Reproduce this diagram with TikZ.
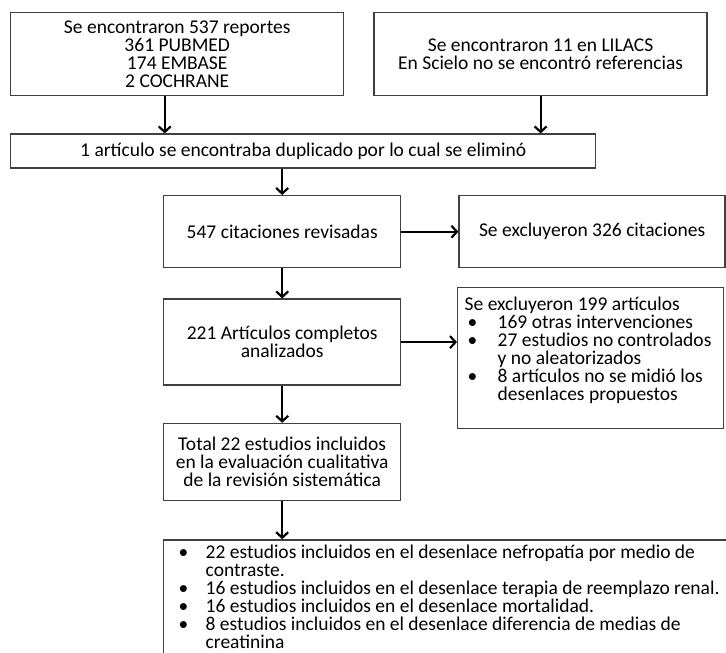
\documentclass[tikz,border=0pt]{standalone}
\usepackage{fontspec}
\setmainfont{Carlito}
\usetikzlibrary{arrows.meta,positioning}

% bullet with left indent and fixed gap
\newcommand{\blt}[2]{\hspace*{#1}\makebox[#2][l]{\textbullet}}

\begin{document}
\begin{tikzpicture}[x=1pt, y=-1pt,
  every node/.style={font=\fontsize{19.5}{18}\selectfont},
  box/.style={draw=black!75, line width=1.4pt, align=center, inner sep=5pt},
  arr/.style={-{Straight Barb[length=5.5pt,width=12pt]}, line width=2.2pt},
  node distance=29pt
]
\useasboundingbox (0,0) rectangle (726,653);
\clip (0,0) rectangle (726,653);

\node[box, minimum width=333pt, minimum height=83pt, anchor=north west] (enc) at (10,12)
  {Se encontraron 537 reportes\\361 PUBMED\\174 EMBASE\\2 COCHRANE};
\node[box, minimum width=333pt, minimum height=83pt, right=29pt of enc] (lil)
  {Se encontraron 11 en LILACS\\En Scielo no se encontró referencias};

\node[box, minimum width=585pt, minimum height=34pt,
      below=37pt of enc.south west, anchor=north west] (dup)
  {1 artículo se encontraba duplicado por lo cual se eliminó};

\node[box, minimum width=237pt, minimum height=72pt, anchor=north west] (cit) at (163,195)
  {547 citaciones revisadas};
\node[box, minimum width=266pt, minimum height=72pt, right=57pt of cit] (excl)
  {Se excluyeron 326 citaciones};

\node[box, minimum width=237pt, minimum height=86pt, below=30pt of cit] (art)
  {221 Artículos completos\\analizados};
\node[box, align=flush left, text width=252pt, inner xsep=7pt, inner ysep=9pt,
      anchor=north west] (exc2) at (457,287)
  {Se excluyeron 199 artículos\\
   \blt{3pt}{30pt}169 otras intervenciones\\
   \blt{3pt}{30pt}27 estudios no controlados\\
   \hspace*{33pt}y no aleatorizados\\
   \blt{3pt}{30pt}8 artículos no se midió los\\
   \hspace*{33pt}desenlaces propuestos\rule[-19pt]{0pt}{19pt}};

\node[box, minimum width=237pt, minimum height=77pt, below=37pt of art] (tot)
  {Total 22 estudios incluidos\\en la evaluación cualitativa\\de la revisión sistemática};

\node[box, align=flush left, text width=600pt, inner xsep=0pt, inner ysep=5pt,
      below=38pt of tot.south west, anchor=north west] (res)
  {\blt{15pt}{27pt}22 estudios incluidos en el desenlace nefropatía por medio de\\
   \hspace*{42pt}contraste.\\
   \blt{15pt}{27pt}16 estudios incluidos en el desenlace terapia de reemplazo renal.\\
   \blt{15pt}{27pt}16 estudios incluidos en el desenlace mortalidad.\\
   \blt{15pt}{27pt}8 estudios incluidos en el desenlace diferencia de medias de\\
   \hspace*{42pt}creatinina\rule[-30pt]{0pt}{30pt}};

\draw[arr] ([xshift=-12.5pt]enc.south) -- ([xshift=-12.5pt]enc.south |- dup.north);
\draw[arr] (lil.south) -- (lil.south |- dup.north);
\draw[arr] (cit.north |- dup.south) -- (cit.north);
\draw[arr] (cit.east) -- (excl.west);
\draw[arr] (cit.south) -- (art.north);
\draw[arr] (art.east) -- (art.east -| exc2.west);
\draw[arr] (art.south) -- (tot.north);
\draw[arr] (tot.south) -- (tot.south |- res.north);
\end{tikzpicture}
\end{document}
